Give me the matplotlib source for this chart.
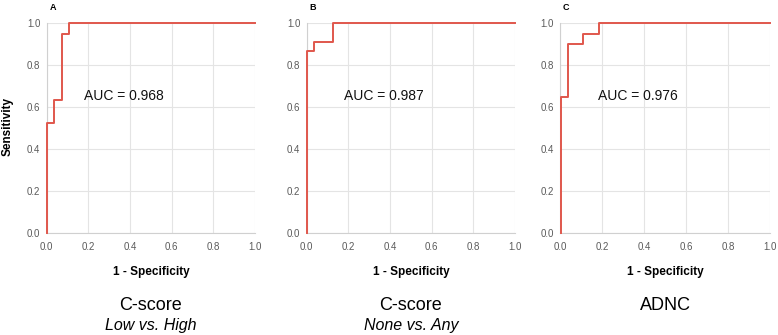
import matplotlib
matplotlib.use("Agg")
import matplotlib.pyplot as plt

# ROC step curves (1 - specificity, sensitivity)
fpr_a = [0.0, 0.0, 0.037, 0.037, 0.072, 0.072, 0.107, 0.107, 1.0]
tpr_a = [0.0, 0.527, 0.527, 0.635, 0.635, 0.949, 0.949, 1.0, 1.0]

fpr_b = [0.0, 0.0, 0.037, 0.037, 0.125, 0.125, 1.0]
tpr_b = [0.0, 0.87, 0.87, 0.912, 0.912, 1.0, 1.0]

fpr_c = [0.003, 0.003, 0.037, 0.037, 0.111, 0.111, 0.186, 0.186, 1.0]
tpr_c = [0.0, 0.648, 0.648, 0.901, 0.901, 0.949, 0.949, 1.0, 1.0]

panel_letters = ["A", "B", "C"]
auc_labels = ["AUC = 0.968", "AUC = 0.987", "AUC = 0.976"]
titles = ["C-score", "C-score", "ADNC"]
subtitles = ["Low vs. High", "None vs. Any", ""]
ticks = [0.0, 0.2, 0.4, 0.6, 0.8, 1.0]
tick_labels = ["0.0", "0.2", "0.4", "0.6", "0.8", "1.0"]

plt.rcParams['font.family'] = ['Liberation Sans', 'DejaVu Sans']

W, H = 778, 335
fig = plt.figure(figsize=(W / 100, H / 100), dpi=100)

lefts = [46.7, 306.7, 560.0]
widths = [208.3, 208.3, 210.0]
top_px, bot_px = 23.3, 233.3

curves = [(fpr_a, tpr_a), (fpr_b, tpr_b), (fpr_c, tpr_c)]
red = "#e0574c"

for i in range(3):
    l = lefts[i]
    w = widths[i]
    ax = fig.add_axes([l / W, (H - bot_px) / H, w / W, (bot_px - top_px) / H])
    fx, ty = curves[i]
    ax.plot(fx, ty, color=red, lw=1.4, zorder=3, clip_on=False)
    ax.set_xlim(0, 1)
    ax.set_ylim(0, 1)
    ax.set_xticks(ticks)
    ax.set_yticks(ticks)
    ax.set_xticklabels(tick_labels)
    ax.set_yticklabels(tick_labels)
    ax.tick_params(length=0, labelsize=7, colors="#5a5a5a")
    ax.tick_params(axis="x", pad=6)
    ax.tick_params(axis="y", pad=4.5)
    ax.grid(True, color="#e4e4e4", lw=0.8)
    ax.set_axisbelow(True)
    for s in ["top", "right"]:
        ax.spines[s].set_visible(False)
    for s in ["left", "bottom"]:
        ax.spines[s].set_color("#d0d0d0")
        ax.spines[s].set_linewidth(0.8)
    ax.text(0.18, 0.655, auc_labels[i], fontsize=10, color="#111111",
            va="center", ha="left")
    cx = (l + w / 2) / W
    fig.text((l + 3) / W, 1 - 7.5 / H, panel_letters[i], fontsize=6.5,
             fontweight="bold", ha="left", va="center")
    fig.text(cx, 1 - 271.7 / H, "1 - Specificity", fontsize=8.5,
             fontweight="bold", ha="center", va="center")
    fig.text(cx, 1 - 306 / H, titles[i], fontsize=13, ha="center", va="center")
    if subtitles[i]:
        fig.text(cx, 1 - 325.7 / H, subtitles[i], fontsize=11.5,
                 style="italic", ha="center", va="center")

fig.text(8 / W, 1 - 126.7 / H, "Sensitivity", fontsize=8.5, fontweight="bold",
         rotation=90, ha="center", va="center")

fig.savefig("out.png", dpi=100)
